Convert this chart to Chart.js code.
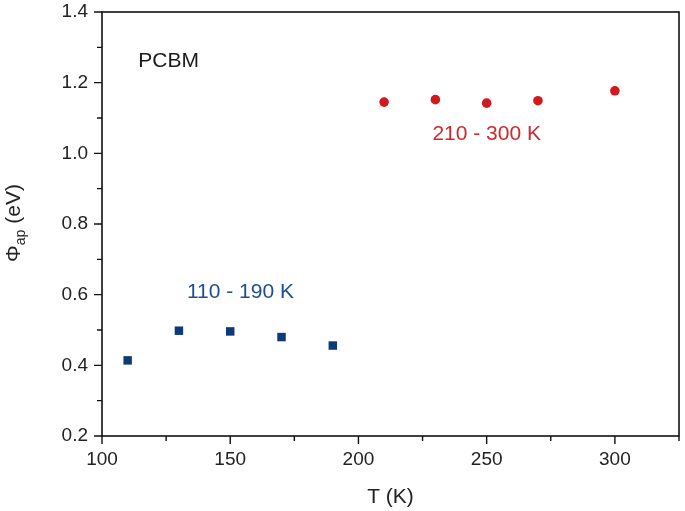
<!DOCTYPE html>
<html lang="en">
<head>
    <meta charset="UTF-8">
    <title>PCBM barrier height</title>
    <script src="https://cdn.jsdelivr.net/npm/chart.js"></script>
    <style>
        html, body {
            margin: 0;
            padding: 0;
            background: #fff;
        }
        #chart {
            display: block;
        }
    </style>
</head>
<body>
<canvas id="chart" width="685" height="511"></canvas>
<script>
    // data
    const lowTemps = [110, 130, 150, 170, 190];
    const lowPhi = [0.414, 0.498, 0.496, 0.480, 0.456];
    const highTemps = [210, 230, 250, 270, 300];
    const highPhi = [1.145, 1.152, 1.142, 1.149, 1.177];

    const xMajorTicks = [100, 150, 200, 250, 300];
    const xMinorTicks = [125, 175, 225, 275, 325];
    const yMajorTicks = [0.2, 0.4, 0.6, 0.8, 1.0, 1.2, 1.4];
    const yMinorTicks = [0.3, 0.5, 0.7, 0.9, 1.1, 1.3];

    const notes = [
        { text: 'PCBM', x: 126, y: 1.26, color: '#1a1a1a' },
        { text: '110 - 190 K', x: 154, y: 0.606, color: '#1f4f8f' },
        { text: '210 - 300 K', x: 250, y: 1.054, color: '#d0282b' }
    ];

    const FONT = 'Arial, "Liberation Sans", sans-serif';
    const blue = '#0d3b7a';
    const red = '#d21920';

    function toPoints(xs, ys) {
        return xs.map((x, i) => ({ x: x, y: ys[i] }));
    }

    // frame, ticks, notes and the y title
    const decorations = {
        id: 'decorations',
        afterDraw(chart) {
            const ctx = chart.ctx;
            const area = chart.chartArea;
            const xs = chart.scales.x;
            const ys = chart.scales.y;

            ctx.save();
            ctx.strokeStyle = '#111';
            ctx.lineWidth = 1.6;
            ctx.strokeRect(area.left, area.top, area.right - area.left, area.bottom - area.top);

            ctx.lineWidth = 1.4;
            ctx.beginPath();
            xMajorTicks.forEach(v => {
                const px = xs.getPixelForValue(v);
                ctx.moveTo(px, area.bottom);
                ctx.lineTo(px, area.bottom + 8);
            });
            xMinorTicks.forEach(v => {
                const px = xs.getPixelForValue(v);
                ctx.moveTo(px, area.bottom);
                ctx.lineTo(px, area.bottom + 5);
            });
            yMajorTicks.forEach(v => {
                const py = ys.getPixelForValue(v);
                ctx.moveTo(area.left, py);
                ctx.lineTo(area.left - 8, py);
            });
            yMinorTicks.forEach(v => {
                const py = ys.getPixelForValue(v);
                ctx.moveTo(area.left, py);
                ctx.lineTo(area.left - 5, py);
            });
            ctx.stroke();

            ctx.textAlign = 'center';
            ctx.textBaseline = 'middle';
            ctx.font = '21px ' + FONT;
            notes.forEach(n => {
                ctx.fillStyle = n.color;
                ctx.fillText(n.text, xs.getPixelForValue(n.x), ys.getPixelForValue(n.y));
            });

            // rotated y title with subscript
            ctx.translate(14, 223);
            ctx.rotate(-Math.PI / 2);
            ctx.fillStyle = '#222';
            ctx.textAlign = 'left';
            const mainFont = '21px ' + FONT;
            const subFont = '14px ' + FONT;
            ctx.font = mainFont;
            const wPhi = ctx.measureText('Φ').width;
            const wUnit = ctx.measureText(' (eV)').width;
            ctx.font = subFont;
            const wSub = ctx.measureText('ap').width;
            let cx = -(wPhi + wSub + wUnit) / 2;
            ctx.font = mainFont;
            ctx.fillText('Φ', cx, 0);
            cx += wPhi;
            ctx.font = subFont;
            ctx.fillText('ap', cx, 7);
            cx += wSub;
            ctx.font = mainFont;
            ctx.fillText(' (eV)', cx, 0);
            ctx.restore();
        }
    };

    new Chart(document.getElementById('chart'), {
        type: 'scatter',
        data: {
            datasets: [
                {
                    label: '110 - 190 K',
                    data: toPoints(lowTemps, lowPhi),
                    pointStyle: 'rect',
                    pointRadius: 6,
                    pointHoverRadius: 6,
                    backgroundColor: blue,
                    borderColor: blue,
                    borderWidth: 0
                },
                {
                    label: '210 - 300 K',
                    data: toPoints(highTemps, highPhi),
                    pointStyle: 'circle',
                    pointRadius: 4.8,
                    pointHoverRadius: 4.8,
                    backgroundColor: red,
                    borderColor: red,
                    borderWidth: 0
                }
            ]
        },
        options: {
            responsive: false,
            animation: false,
            layout: {
                padding: { top: 12, right: 4, left: 0, bottom: 0 }
            },
            plugins: {
                legend: { display: false },
                tooltip: { enabled: false }
            },
            scales: {
                x: {
                    type: 'linear',
                    min: 100,
                    max: 325,
                    grid: { display: false, drawTicks: false },
                    border: { display: false },
                    ticks: {
                        stepSize: 50,
                        includeBounds: false,
                        padding: 12,
                        color: '#222',
                        font: { family: FONT, size: 19 },
                        maxRotation: 0
                    },
                    title: {
                        display: true,
                        text: 'T (K)',
                        color: '#222',
                        font: { family: FONT, size: 21 },
                        padding: { top: 0, bottom: 1 }
                    },
                    afterFit(scale) {
                        scale.height = 75;
                        scale.paddingLeft = 0;
                        scale.paddingRight = 0;
                    }
                },
                y: {
                    type: 'linear',
                    min: 0.2,
                    max: 1.4,
                    grid: { display: false, drawTicks: false },
                    border: { display: false },
                    ticks: {
                        stepSize: 0.2,
                        padding: 14,
                        color: '#222',
                        font: { family: FONT, size: 19 },
                        callback: v => v.toFixed(1)
                    },
                    afterFit(scale) {
                        scale.width = 102;
                        scale.paddingTop = 0;
                        scale.paddingBottom = 0;
                    }
                }
            }
        },
        plugins: [decorations]
    });
</script>
</body>
</html>
